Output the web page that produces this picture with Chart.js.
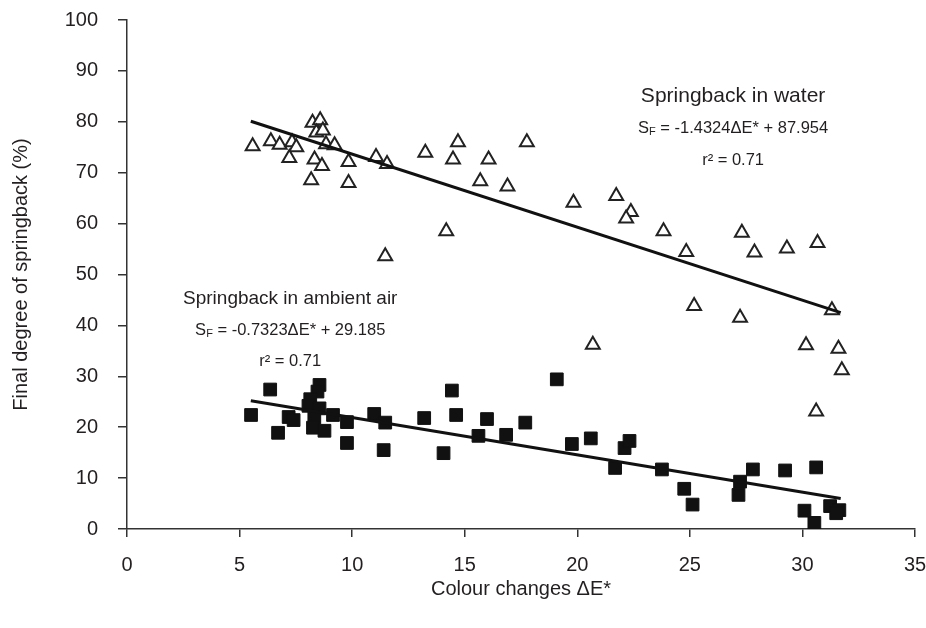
<!DOCTYPE html>
<html>
<head>
<meta charset="utf-8">
<script src="https://cdn.jsdelivr.net/npm/chart.js@4"></script>
<style>
  html, body { margin: 0; padding: 0; background: #fff; }
  #wrap { width: 926px; height: 628px; }
</style>
</head>
<body>
<div id="wrap"><canvas id="springChart"></canvas></div>
<script>
// springback in water (open triangles)
const waterX = [5.58, 6.39, 6.78, 7.33, 7.52, 7.21, 8.24, 8.58, 8.41, 8.70, 8.84, 9.22, 8.33, 8.66, 8.18, 9.84, 9.84,
    11.06, 11.55, 11.47, 13.25, 14.70, 14.48, 16.06, 15.69, 16.90, 17.76, 14.18, 19.83, 21.73, 22.38, 22.17,
    23.83, 24.84, 27.31, 27.87, 29.31, 30.67, 25.19, 27.23, 31.31, 30.16, 31.60, 31.75, 30.61, 20.69];
const waterY = [75.2, 76.2, 75.5, 76.0, 75.0, 72.9, 79.8, 80.3, 77.9, 78.3, 75.6, 75.4, 72.6, 71.3, 68.5, 72.1, 68.0,
    73.1, 71.7, 53.6, 73.9, 76.0, 72.6, 72.6, 68.3, 67.3, 76.0, 58.5, 64.1, 65.4, 62.3, 61.0,
    58.5, 54.4, 58.2, 54.3, 55.1, 56.2, 43.8, 41.5, 43.0, 36.1, 35.4, 31.2, 23.1, 36.2];

// springback in ambient air (filled squares)
const airX = [5.51, 6.36, 6.71, 7.18, 7.40, 8.55, 8.46, 8.14, 8.06, 8.55, 8.32, 8.26, 8.77, 9.15, 9.77, 9.77,
    10.98, 11.47, 11.40, 13.20, 14.06, 14.43, 14.62, 15.61, 15.99, 16.84, 17.69, 19.09, 19.76, 20.60,
    21.68, 22.10, 22.32, 23.76, 24.75, 25.12, 27.23, 27.16, 27.80, 29.23, 30.61, 30.09, 30.53, 31.23, 31.64, 31.50];
const airY = [22.4, 27.4, 18.9, 22.0, 21.4, 28.3, 27.0, 25.5, 24.2, 23.7, 21.9, 19.9, 19.3, 22.4, 21.0, 16.9,
    22.6, 20.9, 15.5, 21.8, 14.9, 27.2, 22.4, 18.3, 21.6, 18.5, 20.9, 29.4, 16.7, 17.8,
    12.0, 15.9, 17.3, 11.7, 7.9, 4.8, 9.3, 6.7, 11.7, 11.5, 12.1, 3.6, 1.2, 4.5, 3.7, 3.1];

// trend line end points
const fitX = [5.5, 31.7];
const waterFitY = [80.1, 42.5];
const airFitY = [25.2, 6.0];

const xTicks = [0, 5, 10, 15, 20, 25, 30, 35];
const yTicks = [0, 10, 20, 30, 40, 50, 60, 70, 80, 90, 100];

const textColor = '#231f20';
const font = 'Liberation Sans, Arial, sans-serif';

function toPoints(xs, ys) {
    return xs.map((x, i) => ({ x: x, y: ys[i] }));
}

// regression labels, anchored in data units
const notes = [
    { x: 26.92, y: 85.0, titleSize: 21, title: 'Springback in water', eq: ' = -1.4324\u0394E* + 87.954', eqY: 78.6, r2Y: 72.5 },
    { x: 7.25, y: 45.3, titleSize: 19, title: 'Springback in ambient air', eq: ' = -0.7323\u0394E* + 29.185', eqY: 39.0, r2Y: 33.0 }
];

const notePlugin = {
    id: 'notes',
    afterDatasetsDraw(chart) {
        const c = chart.ctx;
        const xs = chart.scales.x, ys = chart.scales.y;
        c.save();
        c.fillStyle = textColor;
        c.textBaseline = 'middle';
        notes.forEach(n => {
            const cx = xs.getPixelForValue(n.x);
            c.textAlign = 'center';
            c.font = n.titleSize + 'px ' + font;
            c.fillText(n.title, cx, ys.getPixelForValue(n.y));

            // S with subscript F
            const ey = ys.getPixelForValue(n.eqY);
            c.font = '16.5px ' + font;
            const wS = c.measureText('S').width;
            const wRest = c.measureText(n.eq).width;
            c.font = '11px ' + font;
            const wF = c.measureText('F').width;
            const left = cx - (wS + wF + wRest) / 2;
            c.textAlign = 'left';
            c.font = '16.5px ' + font;
            c.fillText('S', left, ey);
            c.font = '11px ' + font;
            c.fillText('F', left + wS, ey + 3);
            c.font = '16.5px ' + font;
            c.fillText(n.eq, left + wS + wF, ey);

            c.textAlign = 'center';
            c.fillText('r\u00b2 = 0.71', cx, ys.getPixelForValue(n.r2Y));
        });
        c.restore();
    }
};

function noPad(s) {
    s.paddingLeft = 0;
    s.paddingRight = 0;
    s.paddingTop = 0;
    s.paddingBottom = 0;
}

const ctx = document.getElementById('springChart').getContext('2d');
new Chart(ctx, {
    type: 'scatter',
    data: {
        datasets: [
            {
                label: 'Water trend',
                type: 'line',
                data: toPoints(fitX, waterFitY),
                borderColor: '#111',
                borderWidth: 3,
                pointRadius: 0,
                fill: false,
                order: 0
            },
            {
                label: 'Air trend',
                type: 'line',
                data: toPoints(fitX, airFitY),
                borderColor: '#111',
                borderWidth: 3,
                pointRadius: 0,
                fill: false,
                order: 0
            },
            {
                label: 'Springback in water',
                data: toPoints(waterX, waterY),
                pointStyle: 'triangle',
                pointRadius: 8,
                backgroundColor: '#fff',
                borderColor: '#222',
                borderWidth: 2,
                order: 1
            },
            {
                label: 'Springback in ambient air',
                data: toPoints(airX, airY),
                pointStyle: 'rect',
                pointRadius: 9,
                backgroundColor: '#111',
                borderColor: '#111',
                borderWidth: 1,
                order: 1
            }
        ]
    },
    options: {
        responsive: true,
        maintainAspectRatio: false,
        animation: false,
        layout: {
            padding: { top: 20, right: 11, left: 0, bottom: 0 }
        },
        scales: {
            x: {
                type: 'linear',
                min: 0,
                max: 35,
                afterBuildTicks: s => { s.ticks = xTicks.map(v => ({ value: v })); },
                afterFit: s => { s.height = 99; noPad(s); },
                border: { display: true, color: '#333', width: 1.5 },
                grid: { drawOnChartArea: false, drawTicks: true, tickLength: 8, color: '#333', lineWidth: 1.5 },
                ticks: { color: textColor, padding: 16, maxRotation: 0, font: { family: font, size: 20 } },
                title: {
                    display: true,
                    text: 'Colour changes \u0394E*',
                    color: textColor,
                    font: { family: font, size: 20 },
                    padding: { top: 0, bottom: 27 }
                }
            },
            y: {
                min: 0,
                max: 100,
                afterBuildTicks: s => { s.ticks = yTicks.map(v => ({ value: v })); },
                afterFit: s => { s.width = 127; noPad(s); },
                border: { display: true, color: '#333', width: 1.5 },
                grid: { drawOnChartArea: false, drawTicks: true, tickLength: 9, color: '#333', lineWidth: 1.5 },
                ticks: { color: textColor, padding: 20, font: { family: font, size: 20 } },
                title: {
                    display: true,
                    text: 'Final degree of springback (%)',
                    color: textColor,
                    font: { family: font, size: 20 },
                    padding: { top: 9, bottom: 0 }
                }
            }
        },
        plugins: {
            legend: { display: false },
            tooltip: { enabled: false },
            title: { display: false }
        }
    },
    plugins: [notePlugin]
});
</script>
</body>
</html>
